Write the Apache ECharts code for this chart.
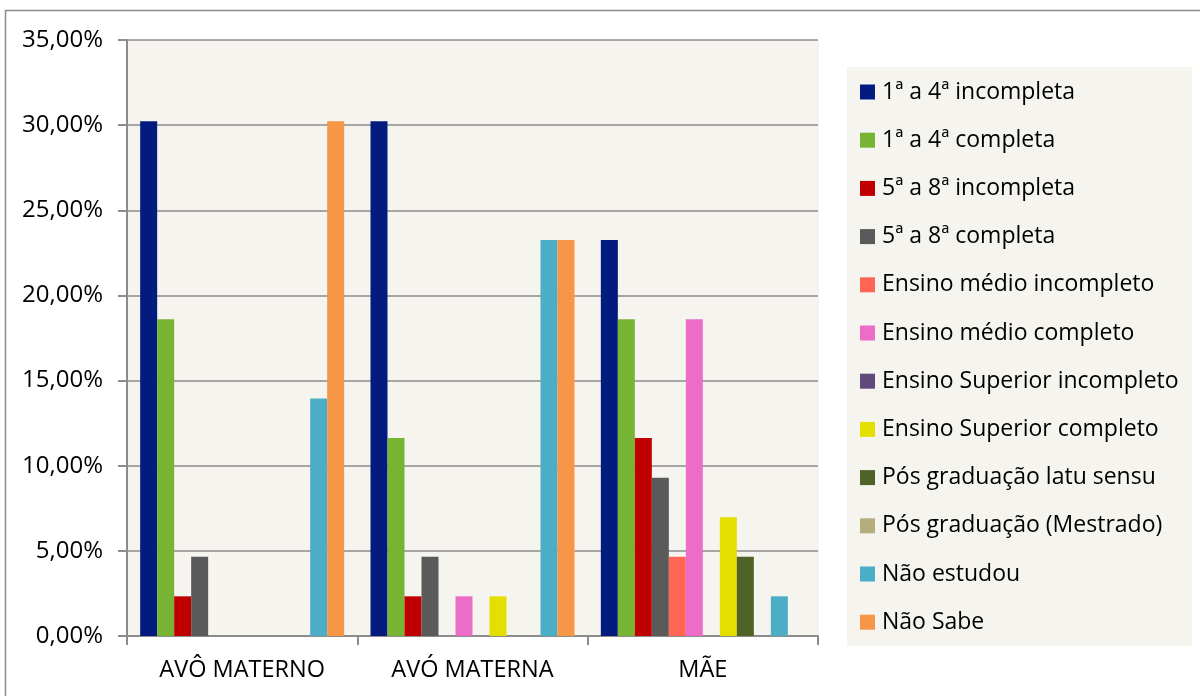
<!DOCTYPE html>
<html>
<head>
<meta charset="utf-8">
<title>Escolaridade</title>
<script src="https://cdn.jsdelivr.net/npm/echarts@6/dist/echarts.min.js"></script>
<style>
  html, body { margin: 0; padding: 0; background: #ffffff; }
  #chart { width: 1200px; height: 696px; }
</style>
</head>
<body>
<div id="chart"></div>
<script>
// Categories (family members) on the x axis
const categories = ['AVÔ MATERNO', 'AVÓ MATERNA', 'MÃE'];

// Education levels, one series each
const levels = [
  '1ª a 4ª incompleta',
  '1ª a 4ª completa',
  '5ª a 8ª incompleta',
  '5ª a 8ª completa',
  'Ensino médio incompleto',
  'Ensino médio completo',
  'Ensino Superior incompleto',
  'Ensino Superior completo',
  'Pós graduação latu sensu',
  'Pós graduação (Mestrado)',
  'Não estudou',
  'Não Sabe'
];

// Percentages per level, in category order
const inc14 = [30.23, 30.23, 23.26];
const comp14 = [18.60, 11.63, 18.60];
const inc58 = [2.33, 2.33, 11.63];
const comp58 = [4.65, 4.65, 9.30];
const medioInc = [0, 0, 4.65];
const medioComp = [0, 2.33, 18.60];
const superiorInc = [0, 0, 0];
const superiorComp = [0, 2.33, 6.98];
const posLatu = [0, 0, 4.65];
const posMestrado = [0, 0, 0];
const naoEstudou = [13.95, 23.26, 2.33];
const naoSabe = [30.23, 23.26, 0];

const seriesValues = [
  inc14, comp14, inc58, comp58, medioInc, medioComp,
  superiorInc, superiorComp, posLatu, posMestrado, naoEstudou, naoSabe
];

// Y axis range and step (percent)
const yMin = 0;
const yMax = 35;
const yStep = 5;

const colors = [
  '#031A7E', '#78B433', '#C00000', '#5A5A5A', '#FF6655', '#EB6DC8',
  '#604A7B', '#E3DF00', '#4F6228', '#B6AD7E', '#4BADC6', '#F79646'
];

const FONT = 'Open Sans';
const TEXT_COLOR = '#000';
const GRID_LEFT = 127, GRID_TOP = 40, GRID_RIGHT = 382, GRID_BOTTOM = 60;

const chart = echarts.init(document.getElementById('chart'), null, { renderer: 'canvas' });

const series = levels.map((name, i) => ({
  name: name,
  type: 'bar',
  data: seriesValues[i].map(v => (v === 0 ? null : v)),
  barWidth: 17,
  barGap: '0%',
  itemStyle: { color: colors[i] },
  emphasis: { disabled: true }
}));

chart.setOption({
  animation: false,
  color: colors,
  textStyle: { fontFamily: FONT, color: TEXT_COLOR },
  graphic: [
    // outer chart frame
    {
      type: 'rect', z: -10, silent: true,
      shape: { x: 5.5, y: 10.5, width: 1300, height: 800 },
      style: { fill: '#ffffff', stroke: '#8c8c8c', lineWidth: 1.5 }
    },
    // plot area background
    {
      type: 'rect', z: -5, silent: true,
      shape: { x: GRID_LEFT, y: GRID_TOP, width: 1200 - GRID_RIGHT - GRID_LEFT + 1, height: 696 - GRID_BOTTOM - GRID_TOP },
      style: { fill: '#F5F4EF' }
    },
    // legend panel background
    {
      type: 'rect', z: -5, silent: true,
      shape: { x: 847, y: 67, width: 345, height: 579 },
      style: { fill: '#F5F4EF' }
    }
  ],
  grid: {
    left: GRID_LEFT, right: GRID_RIGHT, top: GRID_TOP, bottom: GRID_BOTTOM,
    containLabel: false
  },
  legend: {
    orient: 'vertical',
    left: 860,
    top: 80,
    padding: 0,
    itemWidth: 15,
    itemHeight: 15,
    itemGap: 24.2,
    icon: 'rect',
    selectedMode: false,
    textStyle: { fontFamily: FONT, fontSize: 23, color: TEXT_COLOR, lineHeight: 24, padding: [0, 0, 0, 2] },
    data: levels
  },
  xAxis: {
    type: 'category',
    data: categories,
    axisLine: { show: true, lineStyle: { color: '#8c8c8c', width: 2 } },
    axisTick: { show: true, inside: false, length: 9, alignWithLabel: false, lineStyle: { color: '#8c8c8c', width: 2 } },
    axisLabel: { fontFamily: FONT, fontSize: 23.5, color: TEXT_COLOR, margin: 22 },
    splitLine: { show: false }
  },
  yAxis: {
    type: 'value',
    min: yMin,
    max: yMax,
    interval: yStep,
    axisLine: { show: true, lineStyle: { color: '#8c8c8c', width: 2 } },
    axisTick: { show: true, inside: false, length: 9, lineStyle: { color: '#8c8c8c', width: 2 } },
    axisLabel: {
      fontFamily: FONT, fontSize: 24, color: TEXT_COLOR, margin: 24,
      formatter: v => v.toFixed(2).replace('.', ',') + '%'
    },
    splitLine: { show: true, lineStyle: { color: '#8c8c8c', width: 1.5 } }
  },
  series: series
});
</script>
</body>
</html>
